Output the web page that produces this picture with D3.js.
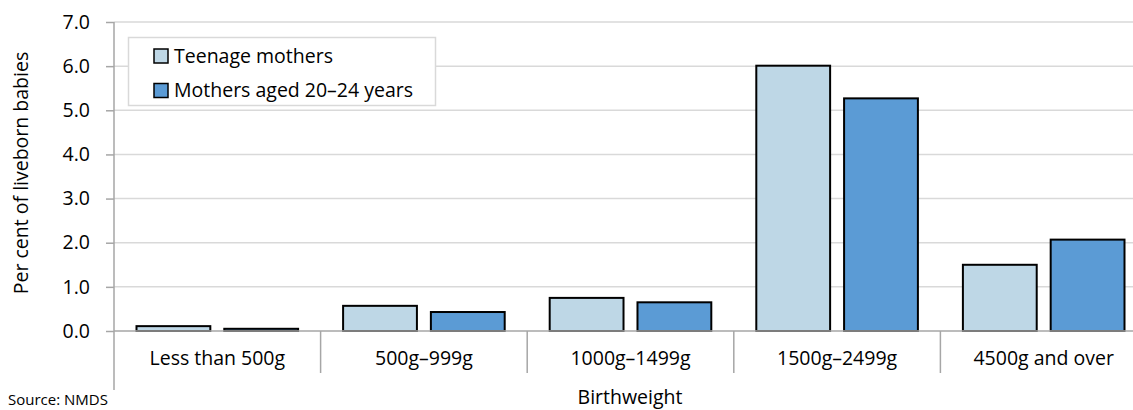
<!DOCTYPE html>
<html><head><meta charset="utf-8">
<script src="https://cdn.jsdelivr.net/npm/d3@7"></script>
<style>html,body{margin:0;padding:0;background:#fff;overflow:hidden}svg{display:block}text{font-family:"Open Sans",sans-serif;fill:#000}</style>
</head><body><svg id="c" width="1133" height="410"></svg>
<script>
const categories = ["Less than 500g", "500g\u2013999g", "1000g\u20131499g", "1500g\u20132499g", "4500g and over"];
const seriesNames = ["Teenage mothers", "Mothers aged 20\u201324 years"];
const teenage = [0.11, 0.57, 0.75, 6.01, 1.50];
const aged20to24 = [0.05, 0.43, 0.65, 5.27, 2.07];
const yTicks = [0, 1, 2, 3, 4, 5, 6, 7];
const colors = ["#BED7E6", "#5B9BD5"];

(function () {
const FS = 19.5;
const svg = d3.select("#c");
const pL = 114, pR = 1147, pT = 22, pB = 331;
const x = d3.scaleBand().domain(categories).range([pL, pR]).paddingInner(0).paddingOuter(0);
const y = d3.scaleLinear().domain([0, 7]).range([pB, pT]);
const xs = d3.scaleBand().domain([0, 1]).range([22.5, x.bandwidth() - 22.5]).paddingInner(14 / 88);

// gridlines
svg.append("g").selectAll("line").data(yTicks.filter(d => d > 0)).join("line")
  .attr("x1", pL).attr("x2", 1133).attr("y1", d => y(d)).attr("y2", d => y(d))
  .attr("stroke", "#D9D9D9").attr("stroke-width", 1.5);

// y axis
const ya = svg.append("g").attr("transform", `translate(${pL},0)`)
  .call(d3.axisLeft(y).tickValues(yTicks).tickFormat(d3.format(".1f")).tickSize(8).tickPadding(16));
ya.select(".domain").remove();
ya.selectAll(".tick line").attr("stroke", "#A6A6A6").attr("stroke-width", 1.5);
ya.selectAll(".tick text").attr("font-size", FS).attr("font-family", "Open Sans").attr("fill", "#000");
svg.append("line").attr("x1", pL).attr("x2", pL).attr("y1", pT).attr("y2", 390)
  .attr("stroke", "#A6A6A6").attr("stroke-width", 1.5);

// bars
const data = [teenage, aged20to24];
categories.forEach((c, i) => {
  data.forEach((s, j) => {
    svg.append("rect")
      .attr("x", x(c) + xs(j)).attr("width", xs.bandwidth())
      .attr("y", y(s[i])).attr("height", y(0) - y(s[i]))
      .attr("fill", colors[j]).attr("stroke", "#000").attr("stroke-width", 2);
  });
});

// baseline
svg.append("line").attr("x1", pL).attr("x2", 1133).attr("y1", y(0)).attr("y2", y(0))
  .attr("stroke", "#A6A6A6").attr("stroke-width", 1.5);

// category separators
svg.append("g").selectAll("line").data(categories.slice(1)).join("line")
  .attr("x1", d => x(d)).attr("x2", d => x(d)).attr("y1", y(0)).attr("y2", 373)
  .attr("stroke", "#A6A6A6").attr("stroke-width", 1.5);

// category labels
svg.append("g").selectAll("text").data(categories).join("text")
  .attr("x", d => x(d) + x.bandwidth() / 2).attr("y", 365)
  .attr("text-anchor", "middle").attr("font-size", FS).text(d => d);

// axis titles
svg.append("text").attr("x", 630).attr("y", 404).attr("text-anchor", "middle").attr("font-size", FS).text("Birthweight");
svg.append("text").attr("transform", "translate(28,173) rotate(-90)").attr("text-anchor", "middle")
  .attr("font-size", FS).text("Per cent of liveborn babies");
svg.append("text").attr("x", 8).attr("y", 405).attr("font-size", 15).text("Source: NMDS");

// legend
const lg = svg.append("g");
lg.append("rect").attr("x", 128.5).attr("y", 37.5).attr("width", 307).attr("height", 68)
  .attr("fill", "#fff").attr("stroke", "#D9D9D9").attr("stroke-width", 1.5);
seriesNames.forEach((n, j) => {
  lg.append("rect").attr("x", 154).attr("y", 49 + j * 34.5).attr("width", 14).attr("height", 14)
    .attr("fill", colors[j]).attr("stroke", "#000").attr("stroke-width", 1.5);
  lg.append("text").attr("x", 174).attr("y", 62.5 + j * 34.5).attr("font-size", FS).text(n);
});
})();
</script></body></html>
